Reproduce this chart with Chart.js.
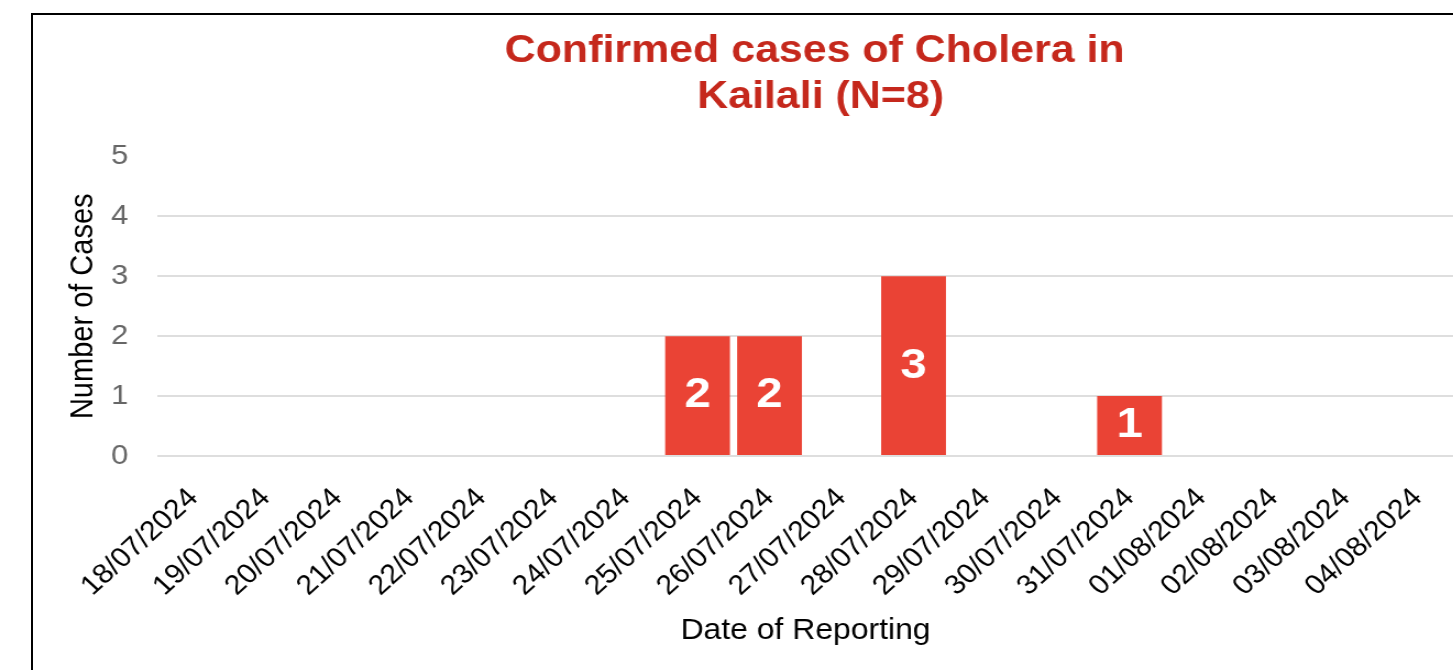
<!DOCTYPE html>
<html><head><meta charset="utf-8">
<script src="https://cdn.jsdelivr.net/npm/chart.js@4.4.1/dist/chart.umd.min.js"></script>
<style>
html,body{margin:0;padding:0;background:#fff;overflow:hidden;width:1453px;height:670px;}
#frame{position:absolute;left:31px;top:13px;width:1500px;height:700px;border-left:2px solid #000;border-top:2px solid #000;}
#wrap{position:absolute;left:0;top:0;width:1492px;height:670px;transform:scaleX(1.1);transform-origin:0 0;}
</style></head><body>
<div id="frame"></div>
<div id="wrap"><canvas id="c"></canvas></div>
<script>
const categories = ['18/07/2024','19/07/2024','20/07/2024','21/07/2024','22/07/2024','23/07/2024','24/07/2024','25/07/2024','26/07/2024','27/07/2024','28/07/2024','29/07/2024','30/07/2024','31/07/2024','01/08/2024','02/08/2024','03/08/2024','04/08/2024'];
const cases = [0,0,0,0,0,0,0,2,2,0,3,0,0,1,0,0,0,0];
const yMin = 0, yMax = 5, yStep = 1;
const titleLines = ['Confirmed cases of Cholera in ', 'Kailali (N=8)'];
const xTitle = 'Date of Reporting';
const yTitle = 'Number of Cases';

const FONT = '"Liberation Sans", Arial, sans-serif';

const barLabels = {
  id: 'barLabels',
  afterDatasetsDraw(chart) {
    const ctx = chart.ctx;
    const meta = chart.getDatasetMeta(0);
    const data = chart.data.datasets[0].data;
    ctx.save();
    ctx.fillStyle = '#ffffff';
    ctx.font = 'bold 43px ' + FONT;
    ctx.textAlign = 'center';
    ctx.textBaseline = 'middle';
    meta.data.forEach((bar, i) => {
      const v = data[i];
      if (!v) return;
      ctx.fillText(String(v), bar.x, (bar.y + bar.base) / 2);
    });
    ctx.restore();
  }
};

// Chart title, centred over the full (partly cropped) chart canvas
const wideTitle = {
  id: 'wideTitle',
  afterDraw(chart) {
    const ctx = chart.ctx;
    ctx.save();
    ctx.fillStyle = '#c5281c';
    ctx.font = 'bold 39px ' + FONT;
    ctx.textAlign = 'center';
    ctx.textBaseline = 'middle';
    const cx = chart.width / 2;
    titleLines.forEach((line, i) => ctx.fillText(line, cx, 51 + i * 46));
    ctx.restore();
  }
};

new Chart(document.getElementById('c'), {
  type: 'bar',
  data: {
    labels: categories,
    datasets: [{
      data: cases,
      backgroundColor: '#ea4335',
      borderWidth: 0,
      categoryPercentage: 1.0,
      barPercentage: 0.9
    }]
  },
  plugins: [barLabels, wideTitle],
  options: {
    responsive: true,
    maintainAspectRatio: false,
    animation: false,
    layout: { padding: { left: 0, right: 170.6, top: 156.5, bottom: 0 } },
    plugins: {
      legend: { display: false },
      tooltip: { enabled: false },
      title: { display: false }
    },
    scales: {
      x: {
        offset: true,
        grid: { display: false, drawTicks: false },
        border: { display: false },
        ticks: {
          autoSkip: false,
          maxRotation: 45,
          minRotation: 45,
          padding: 26,
          color: '#000',
          font: { family: FONT, size: 27.5 }
        },
        title: {
          display: true,
          text: xTitle,
          color: '#000',
          font: { family: FONT, size: 29 },
          padding: { top: 0, bottom: 22 }
        },
        afterFit(scale) { scale.height = 214; }
      },
      y: {
        min: yMin,
        max: yMax,
        ticks: {
          stepSize: yStep,
          padding: 26.7,
          color: '#666',
          font: { family: FONT, size: 28 }
        },
        grid: {
          drawTicks: false,
          lineWidth: 2,
          color: (c) => (c.tick && c.tick.value === yMax) ? 'rgba(0,0,0,0)' : '#dedede'
        },
        border: { display: false },
        title: {
          display: true,
          text: yTitle,
          color: '#000',
          font: { family: FONT, size: 29 },
          padding: { top: 58.6, bottom: 0 }
        },
        afterFit(scale) { scale.width = 143.2; }
      }
    }
  }
});
</script>
</body></html>
